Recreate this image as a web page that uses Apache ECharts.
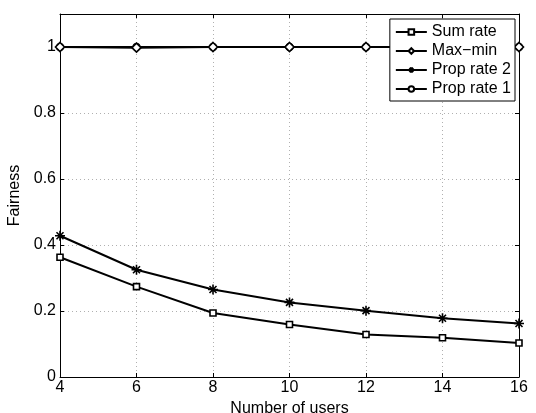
<!DOCTYPE html>
<html>
<head>
<meta charset="utf-8">
<script src="https://cdn.jsdelivr.net/npm/echarts@6/dist/echarts.min.js"></script>
<style>
  html, body { margin: 0; padding: 0; background: #fff; }
  #chart { width: 536px; height: 413px; }
</style>
</head>
<body>
<div id="chart"></div>
<script>
var users = [4, 6, 8, 10, 12, 14, 16];
var sumRate = [0.363, 0.274, 0.194, 0.159, 0.129, 0.119, 0.103];
var maxMin = [1, 0.998, 1, 1, 1, 1, 1];
var propRate2 = [0.428, 0.325, 0.265, 0.226, 0.201, 0.178, 0.162];
var propRate1 = [1, 1, 1, 1, 1, 1, 1];

var font = 'Liberation Sans, Arial, Helvetica, sans-serif';
var asterisk = 'path://M0,-1L0,1M-1,0L1,0M-0.7,-0.7L0.7,0.7M-0.7,0.7L0.7,-0.7';
var gridLine = { show: true, lineStyle: { color: '#b0b0b0', type: [1, 3], width: 1 } };

function pairs(ys) {
    return users.map(function (u, i) { return [u, ys[i]]; });
}

function makeSeries(name, ys, symbol, size, z) {
    return {
        name: name,
        type: 'line',
        data: pairs(ys),
        symbol: symbol,
        symbolSize: size,
        showAllSymbol: true,
        clip: false,
        z: z,
        lineStyle: { color: '#000', width: 2 },
        itemStyle: { color: '#fff', borderColor: '#000', borderWidth: 1.6 },
        emphasis: { disabled: true }
    };
}

// mirrored axes on top/right, ticks only
function mirror(base, pos) {
    return Object.assign({}, base, {
        position: pos,
        name: '',
        axisLabel: { show: false },
        splitLine: { show: false },
        axisTick: { show: true, inside: true, length: 4, lineStyle: { color: '#000' } }
    });
}

var xBase = {
    type: 'value',
    min: 4,
    max: 16,
    interval: 2,
    axisLine: { show: true, onZero: false, lineStyle: { color: '#000' } }
};
var yBase = {
    type: 'value',
    min: 0,
    max: 1.1,
    interval: 0.2,
    axisLine: { show: true, onZero: false, lineStyle: { color: '#000' } }
};

var myChart = echarts.init(document.getElementById('chart'));
var option = {
    animation: false,
    textStyle: { fontFamily: font },
    grid: { left: 60, right: 17, top: 14, bottom: 36, containLabel: false, outerBoundsMode: 'none' },
    legend: {
        orient: 'vertical',
        right: 21,
        top: 19,
        z: 20,
        backgroundColor: '#fff',
        borderColor: '#000',
        borderWidth: 1,
        borderRadius: 0,
        padding: [5, 4, 4, 5],
        itemGap: 3,
        itemWidth: 31,
        itemHeight: 7,
        textStyle: { fontSize: 16, lineHeight: 16, color: '#000', fontFamily: font },
        data: ['Sum rate', 'Max\u2212min', 'Prop rate 2', 'Prop rate 1']
    },
    xAxis: [
        Object.assign({}, xBase, {
            name: 'Number of users',
            nameLocation: 'middle',
            nameGap: 20,
            nameTextStyle: { fontSize: 16, color: '#000' },
            axisTick: { inside: true, length: 4, lineStyle: { color: '#000' } },
            axisLabel: { fontSize: 16, color: '#000', margin: 3 },
            splitLine: gridLine
        }),
        mirror(xBase, 'top')
    ],
    yAxis: [
        Object.assign({}, yBase, {
            name: 'Fairness',
            nameLocation: 'middle',
            nameGap: 31,
            nameTextStyle: { fontSize: 16, color: '#000' },
            axisTick: { show: true, inside: true, length: 4, lineStyle: { color: '#000' } },
            axisLabel: { fontSize: 16, color: '#000', margin: 4, showMaxLabel: false },
            splitLine: gridLine
        }),
        mirror(yBase, 'right')
    ],
    series: [
        makeSeries('Sum rate', sumRate, 'rect', 6, 4),
        makeSeries('Max\u2212min', maxMin, 'diamond', 9, 5),
        makeSeries('Prop rate 2', propRate2, asterisk, 10, 3),
        makeSeries('Prop rate 1', propRate1, 'circle', 7, 2)
    ]
};
myChart.setOption(option);
</script>
</body>
</html>
